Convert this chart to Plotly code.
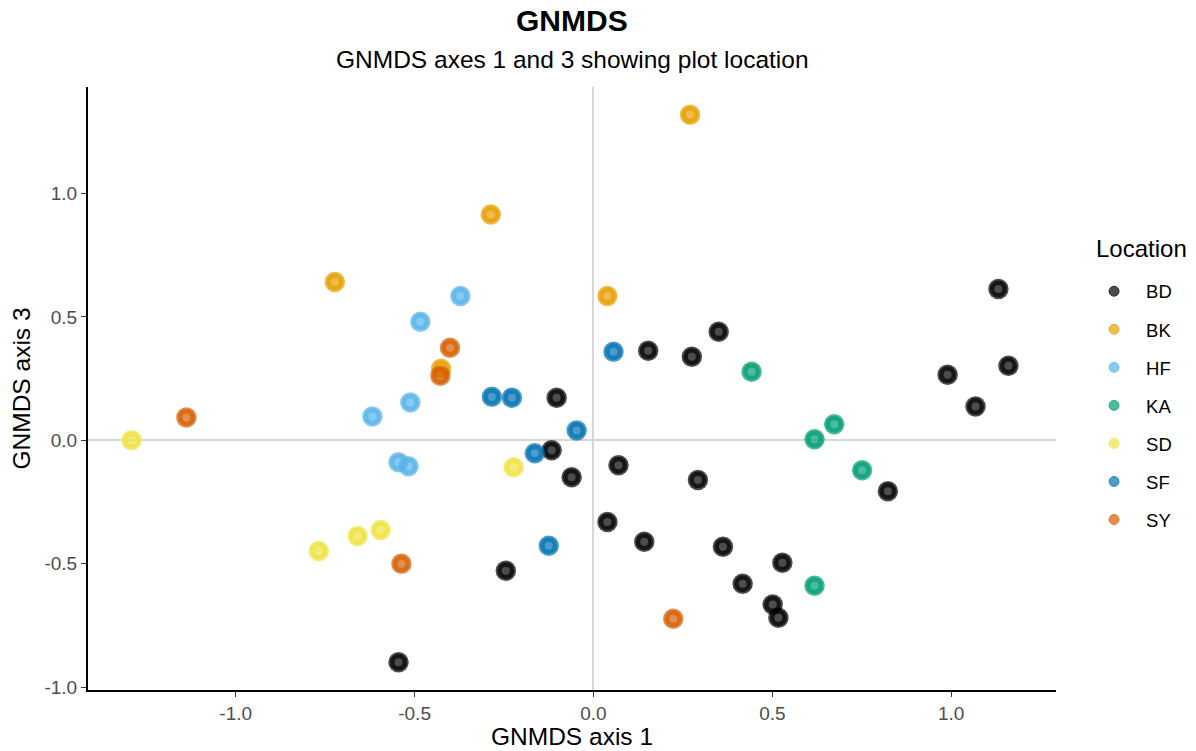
import plotly.graph_objects as go

locations = ["BD", "BK", "HF", "KA", "SD", "SF", "SY"]
colors = ["#000000", "#E69F00", "#56B4E9", "#009E73", "#F0E442", "#0072B2", "#D55E00"]

bd_x = [1.132, 1.160, 0.990, 1.068, 0.823, 0.350, 0.275, 0.153, -0.103, -0.117, -0.061,
        0.070, 0.292, 0.039, 0.142, 0.362, 0.528, 0.417, 0.501, 0.517, -0.245, -0.545]
bd_y = [0.613, 0.302, 0.266, 0.137, -0.206, 0.440, 0.339, 0.363, 0.173, -0.040, -0.149,
        -0.101, -0.161, -0.331, -0.411, -0.431, -0.496, -0.581, -0.665, -0.718, -0.528, -0.899]
bk_x = [0.270, -0.287, -0.723, 0.039, -0.426]
bk_y = [1.319, 0.915, 0.641, 0.585, 0.290]
hf_x = [-0.372, -0.484, -0.512, -0.618, -0.545, -0.517]
hf_y = [0.585, 0.480, 0.153, 0.097, -0.089, -0.105]
ka_x = [0.442, 0.673, 0.618, 0.751, 0.618]
ka_y = [0.278, 0.065, 0.004, -0.121, -0.589]
sd_x = [-1.291, -0.223, -0.595, -0.659, -0.768]
sd_y = [0.000, -0.109, -0.363, -0.387, -0.448]
sf_x = [0.056, -0.284, -0.228, -0.047, -0.164, -0.125]
sf_y = [0.359, 0.177, 0.173, 0.040, -0.052, -0.427]
sy_x = [-1.138, -0.401, -0.428, -0.537, 0.223]
sy_y = [0.093, 0.375, 0.262, -0.500, -0.722]

xs = [bd_x, bk_x, hf_x, ka_x, sd_x, sf_x, sy_x]
ys = [bd_y, bk_y, hf_y, ka_y, sd_y, sf_y, sy_y]

x_range = [-1.413, 1.293]
y_range = [-1.011, 1.431]
x_ticks = [-1.0, -0.5, 0.0, 0.5, 1.0]
y_ticks = [-1.0, -0.5, 0.0, 0.5, 1.0]

ALPHA = 0.7
FONT = "Liberation Sans, Arial, sans-serif"


def rgba(hex_color, a):
    h = hex_color.lstrip("#")
    r, g, b = int(h[0:2], 16), int(h[2:4], 16), int(h[4:6], 16)
    return f"rgba({r},{g},{b},{a})"


fig = go.Figure()
for name, col, x, y in zip(locations, colors, xs, ys):
    c = rgba(col, ALPHA)
    fig.add_trace(go.Scatter(
        x=x, y=y, mode="markers", name=name, legendgroup=name, showlegend=False,
        marker=dict(symbol="circle", size=20.5, color=c, line=dict(width=0)),
        hoverinfo="x+y+name"))
    fig.add_trace(go.Scatter(
        x=x, y=y, mode="markers", name=name, legendgroup=name, showlegend=False,
        marker=dict(symbol="circle-open", size=12.5, color=c, line=dict(width=4.5, color=c)),
        hoverinfo="skip"))
    fig.add_trace(go.Scatter(
        x=[None], y=[None], mode="markers", name=name, legendgroup=name, showlegend=True,
        marker=dict(symbol="circle", size=10, color=c, line=dict(width=1, color=c))))

fig.update_layout(
    width=1196, height=751,
    margin=dict(l=88, r=140, t=87, b=61, autoexpand=False),
    paper_bgcolor="white", plot_bgcolor="white",
    font=dict(family=FONT, color="black"),
    showlegend=True,
    legend=dict(
        font=dict(size=18.5, color="black"),
        x=1.0269, xanchor="left", y=0.692, yanchor="top",
        tracegroupgap=11, itemwidth=54,
        bgcolor="rgba(0,0,0,0)"),
    annotations=[
        dict(text="<b>GNMDS</b>", xref="paper", yref="paper", x=0.5, y=1.111,
             xanchor="center", yanchor="middle", showarrow=False,
             font=dict(size=30, color="black")),
        dict(text="GNMDS axes 1 and 3 showing plot location", xref="paper", yref="paper",
             x=0.5, y=1.045, xanchor="center", yanchor="middle", showarrow=False,
             font=dict(size=24.5, color="black")),
        dict(text="GNMDS axis 1", xref="paper", yref="paper", x=0.5, y=-0.0779,
             xanchor="center", yanchor="middle", showarrow=False,
             font=dict(size=24.5, color="black")),
        dict(text="GNMDS axis 3", xref="paper", yref="paper", x=-0.0682, y=0.5,
             xanchor="center", yanchor="middle", showarrow=False, textangle=-90,
             font=dict(size=24.5, color="black")),
        dict(text="Location", xref="paper", yref="paper", x=1.039, y=0.733,
             xanchor="left", yanchor="middle", showarrow=False,
             font=dict(size=24, color="black")),
    ],
)

fig.update_xaxes(
    range=x_range, tickvals=x_ticks, ticktext=[f"{v:.1f}" for v in x_ticks],
    showgrid=False, zeroline=True, zerolinecolor="#d6d6d6", zerolinewidth=2,
    showline=True, linecolor="black", linewidth=2, automargin=False,
    ticks="outside", ticklen=5, tickwidth=1.2, tickcolor="#333333",
    tickfont=dict(size=19, color="#4d4d4d"),
)
fig.update_yaxes(
    range=y_range, tickvals=y_ticks, ticktext=[f"{v:.1f}" for v in y_ticks],
    showgrid=False, zeroline=True, zerolinecolor="#d6d6d6", zerolinewidth=2,
    showline=True, linecolor="black", linewidth=2, automargin=False,
    ticks="outside", ticklen=5, tickwidth=1.2, tickcolor="#333333",
    tickfont=dict(size=19, color="#4d4d4d"),
)

fig.write_html(
    "out.html",
    config={"displayModeBar": False},
    post_script="document.body.style.margin='0px';document.body.style.overflow='hidden';",
)
